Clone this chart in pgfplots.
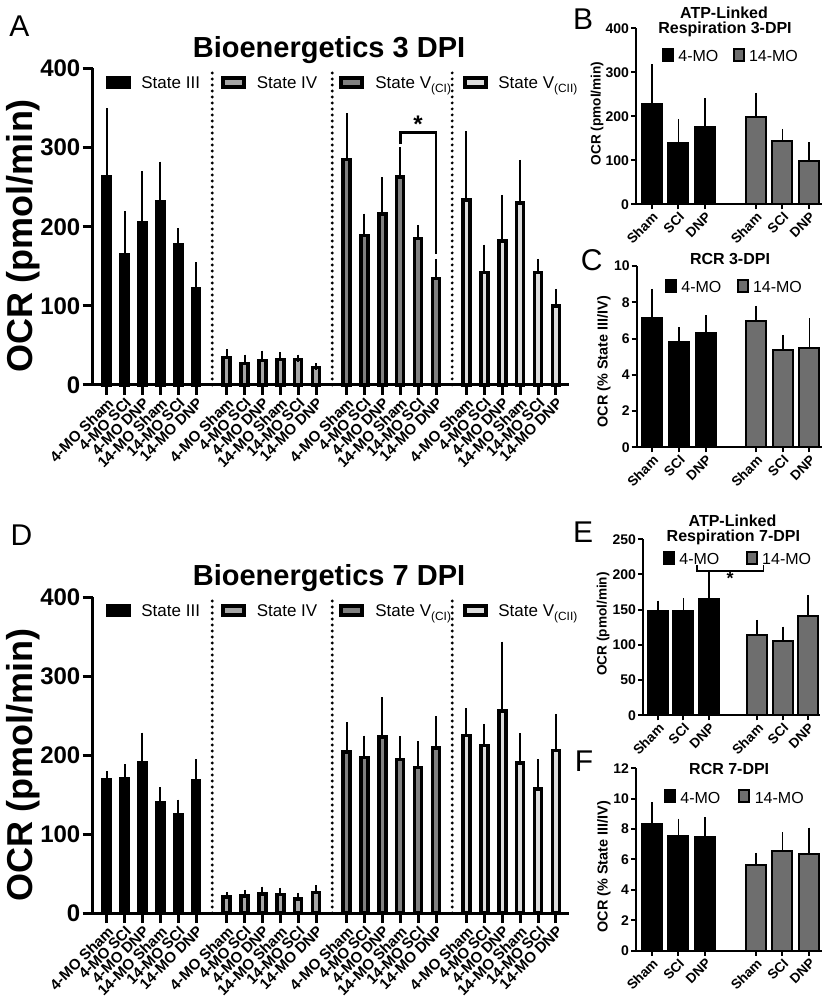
\documentclass[border=0pt]{standalone}
\usepackage{fontspec}
\setmainfont{Liberation Sans}
\usepackage{pgfplots}
\pgfplotsset{compat=1.18}

\definecolor{stIV}{HTML}{A6A6A6}
\definecolor{stVa}{HTML}{808080}
\definecolor{stVb}{HTML}{DCDCDC}
\definecolor{old}{HTML}{6E6E6E}
\newcommand{\fs}[1]{\fontsize{#1}{#1}\selectfont}

\tikzset{sep/.style={line width=1.6pt, dash pattern=on 0pt off 3pt, line cap=round}}

\pgfplotsset{
  bigerr/.style={error bars/y dir=plus, error bars/y explicit,
    error bars/error bar style={line width=1pt, black, solid},
    error bars/error mark options={line width=1pt, black, mark size=1.75pt}},
  bigbar/.style={ybar, bar shift=0pt, bar width=3.5pt, draw=black, line width=1.75pt, fill=#1, bigerr},
  smallerr/.style={error bars/y dir=plus, error bars/y explicit,
    error bars/error bar style={line width=0.9pt, black, solid},
    error bars/error mark options={line width=0.9pt, black, mark size=2.5pt}},
  smallbar/.style={ybar, bar shift=0pt, bar width=10pt, draw=black, line width=1pt, fill=#1, smallerr},
  bigaxis/.style={
    scale only axis, width=237.9pt, height=158.25pt, anchor=south west,
    xmin=-0.78, xmax=25.8, ymin=0, ymax=400, clip=false,
    axis lines=left, axis line style={-, line width=1.5pt},
    tick style={line width=1.5pt, black}, major tick length=5pt, tick align=outside,
    ytick={0,100,200,300,400},
    xtick={0,1,2,3,4,5,6.7,7.7,8.7,9.7,10.7,11.7,13.4,14.4,15.4,16.4,17.4,18.4,20.1,21.1,22.1,23.1,24.1,25.1},
    xticklabels={4-MO Sham,4-MO SCI,4-MO DNP,14-MO Sham,14-MO SCI,14-MO DNP,
                 4-MO Sham,4-MO SCI,4-MO DNP,14-MO Sham,14-MO SCI,14-MO DNP,
                 4-MO Sham,4-MO SCI,4-MO DNP,14-MO Sham,14-MO SCI,14-MO DNP,
                 4-MO Sham,4-MO SCI,4-MO DNP,14-MO Sham,14-MO SCI,14-MO DNP},
    xticklabel style={rotate=45, anchor=north east, font=\bfseries\fs{7.5}, inner sep=0.5pt},
    yticklabel style={font=\bfseries\fs{12}, inner sep=1pt},
    /pgf/number format/assume math mode=true,
  },
  smallaxis/.style={
    scale only axis, width=92.85pt, anchor=south west,
    xmin=-0.59, xmax=6.37, ymin=0, clip=false,
    axis lines=left, axis line style={-, line width=1pt},
    tick style={line width=1pt, black}, major tick length=2.5pt, tick align=outside,
    xtick={0,1,2,3.9,4.9,5.9}, xticklabels={Sham,SCI,DNP,Sham,SCI,DNP},
    xticklabel style={rotate=45, anchor=north east, font=\bfseries\fs{6.8}, inner sep=0.5pt},
    yticklabel style={font=\bfseries\fs{7}, inner sep=0.8pt},
    /pgf/number format/assume math mode=true,
  },
}

\begin{document}
\begin{tikzpicture}
\useasboundingbox (0pt,0pt) rectangle (412.5pt,500pt);

% ---------------- A: 3 DPI
\begin{axis}[bigaxis, at={(46.35pt,307.5pt)}]
\addplot[bigbar=black] coordinates {(0,263) +- (0,82.6) (1,165) +- (0,50) (2,205) +- (0,61) (3,231) +- (0,47) (4,177) +- (0,16.5) (5,122) +- (0,29)};
\addplot[bigbar=stIV] coordinates {(6.7,34.6) +- (0,6.4) (7.7,27) +- (0,7) (8.7,31) +- (0,8) (9.7,32) +- (0,5) (10.7,32) +- (0,2) (11.7,22) +- (0,1)};
\addplot[bigbar=stVa] coordinates {(13.4,285) +- (0,54) (14.4,189) +- (0,23) (15.4,216) +- (0,42) (16.4,263) +- (0,33) (17.4,185) +- (0,13) (18.4,134.5) +- (0,20.5)};
\addplot[bigbar=stVb] coordinates {(20.1,234) +- (0,82) (21.1,142) +- (0,31) (22.1,182) +- (0,54) (23.1,230) +- (0,50) (24.1,142) +- (0,13) (25.1,100) +- (0,17)};
\draw[sep] (axis cs:5.9,0) -- (axis cs:5.9,400);
\draw[sep] (axis cs:12.6,0) -- (axis cs:12.6,400);
\draw[sep] (axis cs:19.3,0) -- (axis cs:19.3,400);
\draw[line width=1.3pt] (axis cs:16.4,304) -- (axis cs:16.4,319) -- (axis cs:18.4,319) -- (axis cs:18.4,166);
\node[font=\bfseries\fs{12}] at (axis cs:17.4,329) {*};
\end{axis}

% ---------------- D: 7 DPI
\begin{axis}[bigaxis, at={(46.35pt,43.5pt)}, height=158pt]
\addplot[bigbar=black] coordinates {(0,169) +- (0,6) (1,170) +- (0,14) (2,190) +- (0,34) (3,139) +- (0,16) (4,125) +- (0,14) (5,168) +- (0,22)};
\addplot[bigbar=stIV] coordinates {(6.7,20) +- (0,2) (7.7,21.5) +- (0,3.5) (8.7,24) +- (0,5) (9.7,23.7) +- (0,3.8) (10.7,18) +- (0,3) (11.7,26) +- (0,5)};
\addplot[bigbar=stVa] coordinates {(13.4,204) +- (0,33) (14.4,197) +- (0,23) (15.4,222.6) +- (0,46) (16.4,194) +- (0,25.6) (17.4,184) +- (0,29) (18.4,209) +- (0,35.6)};
\addplot[bigbar=stVb] coordinates {(20.1,225) +- (0,30) (21.1,212) +- (0,23) (22.1,255.5) +- (0,83.5) (23.1,190) +- (0,33.4) (24.1,157) +- (0,33) (25.1,206) +- (0,41.5)};
\draw[sep] (axis cs:5.9,0) -- (axis cs:5.9,400);
\draw[sep] (axis cs:12.6,0) -- (axis cs:12.6,400);
\draw[sep] (axis cs:19.3,0) -- (axis cs:19.3,400);
\end{axis}

% ---------------- B
\begin{axis}[smallaxis, at={(318pt,397.85pt)}, height=88pt, ymax=400, ytick={0,100,200,300,400}]
\addplot[smallbar=black] coordinates {(0,228) +- (0,79) (1,138.6) +- (0,44) (2,175) +- (0,54.5)};
\addplot[smallbar=old] coordinates {(3.9,199) +- (0,42.7) (4.9,144) +- (0,16) (5.9,99) +- (0,31)};
\end{axis}

% ---------------- C
\begin{axis}[smallaxis, at={(318.3pt,276.35pt)}, width=92.7pt, height=90.65pt, ymax=10, ytick={0,2,4,6,8,10}]
\addplot[smallbar=black] coordinates {(0,7.15) +- (0,1.31) (1,5.83) +- (0,0.51) (2,6.32) +- (0,0.70)};
\addplot[smallbar=old] coordinates {(3.9,6.97) +- (0,0.55) (4.9,5.37) +- (0,0.55) (5.9,5.46) +- (0,1.38)};
\end{axis}

% ---------------- E
\begin{axis}[smallaxis, at={(321.5pt,142.35pt)}, width=88.5pt, height=88pt, ymax=250, ytick={0,50,100,150,200,250}]
\addplot[smallbar=black] coordinates {(0,148.7) +- (0,7.1) (1,147.7) +- (0,11.9) (2,164.8) +- (0,31.2)};
\addplot[smallbar=old] coordinates {(3.9,114.6) +- (0,13.7) (4.9,105.6) +- (0,13.2) (5.9,141) +- (0,22.8)};
\draw[line width=0.9pt] (axis cs:1.52,213.5) -- (axis cs:1.52,205) -- (axis cs:4.15,205) -- (axis cs:4.15,213.5);
\node[font=\bfseries\fs{9}] at (axis cs:2.84,195) {*};
\end{axis}

% ---------------- F
\begin{axis}[smallaxis, at={(318pt,24.65pt)}, height=91.2pt, ymax=12, ytick={0,2,4,6,8,10,12}]
\addplot[smallbar=black] coordinates {(0,8.31) +- (0,1.12) (1,7.57) +- (0,0.79) (2,7.46) +- (0,0.99)};
\addplot[smallbar=old] coordinates {(3.9,5.66) +- (0,0.44) (4.9,6.56) +- (0,0.9) (5.9,6.38) +- (0,1.39)};
\end{axis}

% ---------------- panel letters
\foreach \l/\x/\y in {A/9.75/487, B/291.5/490.5, C/295.85/369.75, D/10.7/232.5, E/291.5/233.75, F/292/119.5}
  \node[font=\fs{15}, inner sep=0pt] at (\x pt,\y pt) {\l};

% ---------------- titles
\node[font=\bfseries\fs{14.5}, anchor=base] at (164.5pt,471.35pt) {Bioenergetics 3 DPI};
\node[font=\bfseries\fs{14.5}, anchor=base] at (164.5pt,207pt) {Bioenergetics 7 DPI};
\node[font=\bfseries\fs{8}, anchor=base] at (362pt,490.8pt) {ATP-Linked};
\node[font=\bfseries\fs{8}, anchor=base] at (362.5pt,483.3pt) {Respiration 3-DPI};
\node[font=\bfseries\fs{8}, anchor=base] at (365pt,367.5pt) {RCR 3-DPI};
\node[font=\bfseries\fs{8}, anchor=base] at (366.25pt,236.67pt) {ATP-Linked};
\node[font=\bfseries\fs{8}, anchor=base] at (366.7pt,229.2pt) {Respiration 7-DPI};
\node[font=\bfseries\fs{8}, anchor=base] at (364.6pt,112.5pt) {RCR 7-DPI};

% ---------------- y labels
\node[font=\bfseries\fs{18}, rotate=90, inner sep=0pt] at (11.5pt,382pt) {OCR (pmol/min)};
\node[font=\bfseries\fs{18}, rotate=90, inner sep=0pt] at (11.5pt,117.5pt) {OCR (pmol/min)};
\node[font=\bfseries\fs{6.8}, rotate=90, inner sep=0pt] at (298.5pt,443.35pt) {OCR (pmol/min)};
\node[font=\bfseries\fs{7.2}, rotate=90, inner sep=0pt] at (302pt,319.15pt) {OCR (\% State III/IV)};
\node[font=\bfseries\fs{6.8}, rotate=90, inner sep=0pt] at (301.5pt,188pt) {OCR (pmol/min)};
\node[font=\bfseries\fs{7.2}, rotate=90, inner sep=0pt] at (302pt,66.65pt) {OCR (\% State III/IV)};

% ---------------- big legends
\foreach \yb in {455.5,191.5}{
  \fill[black] (53pt,\yb pt) rectangle (65.5pt,\yb pt+6.5pt);
  \draw[line width=2pt, fill=stIV] (111.7pt,\yb pt+1pt) rectangle (122.2pt,\yb pt+5.5pt);
  \draw[line width=2pt, fill=stVa] (170.5pt,\yb pt+1pt) rectangle (181pt,\yb pt+5.5pt);
  \draw[line width=2pt, fill=stVb] (232.25pt,\yb pt+1pt) rectangle (242.75pt,\yb pt+5.5pt);
  \node[font=\fs{8.5}, anchor=base west, inner sep=0pt] at (70.5pt,\yb pt) {State III};
  \node[font=\fs{8.5}, anchor=base west, inner sep=0pt] at (128.2pt,\yb pt) {State IV};
  \node[font=\fs{8.5}, anchor=base west, inner sep=0pt] at (187.5pt,\yb pt) {State V\textsubscript{(CI)}};
  \node[font=\fs{8.5}, anchor=base west, inner sep=0pt] at (249pt,\yb pt) {State V\textsubscript{(CII)}};
}

% ---------------- small legends
\foreach \xa/\xg/\yb in {331/366.3/469, 332.5/368.3/353.5, 331.5/372.9/217.5, 332/369.2/98.4}{
  \fill[black] (\xa pt,\yb pt) rectangle (\xa pt+6pt,\yb pt+7pt);
  \draw[line width=1pt, fill=old] (\xg pt+0.5pt,\yb pt+0.5pt) rectangle (\xg pt+5.5pt,\yb pt+6.5pt);
  \node[font=\fs{8}, anchor=base west, inner sep=0pt] at (\xa pt+8pt,\yb pt) {4-MO};
  \node[font=\fs{8}, anchor=base west, inner sep=0pt] at (\xg pt+8pt,\yb pt) {14-MO};
}
\end{tikzpicture}
\end{document}
